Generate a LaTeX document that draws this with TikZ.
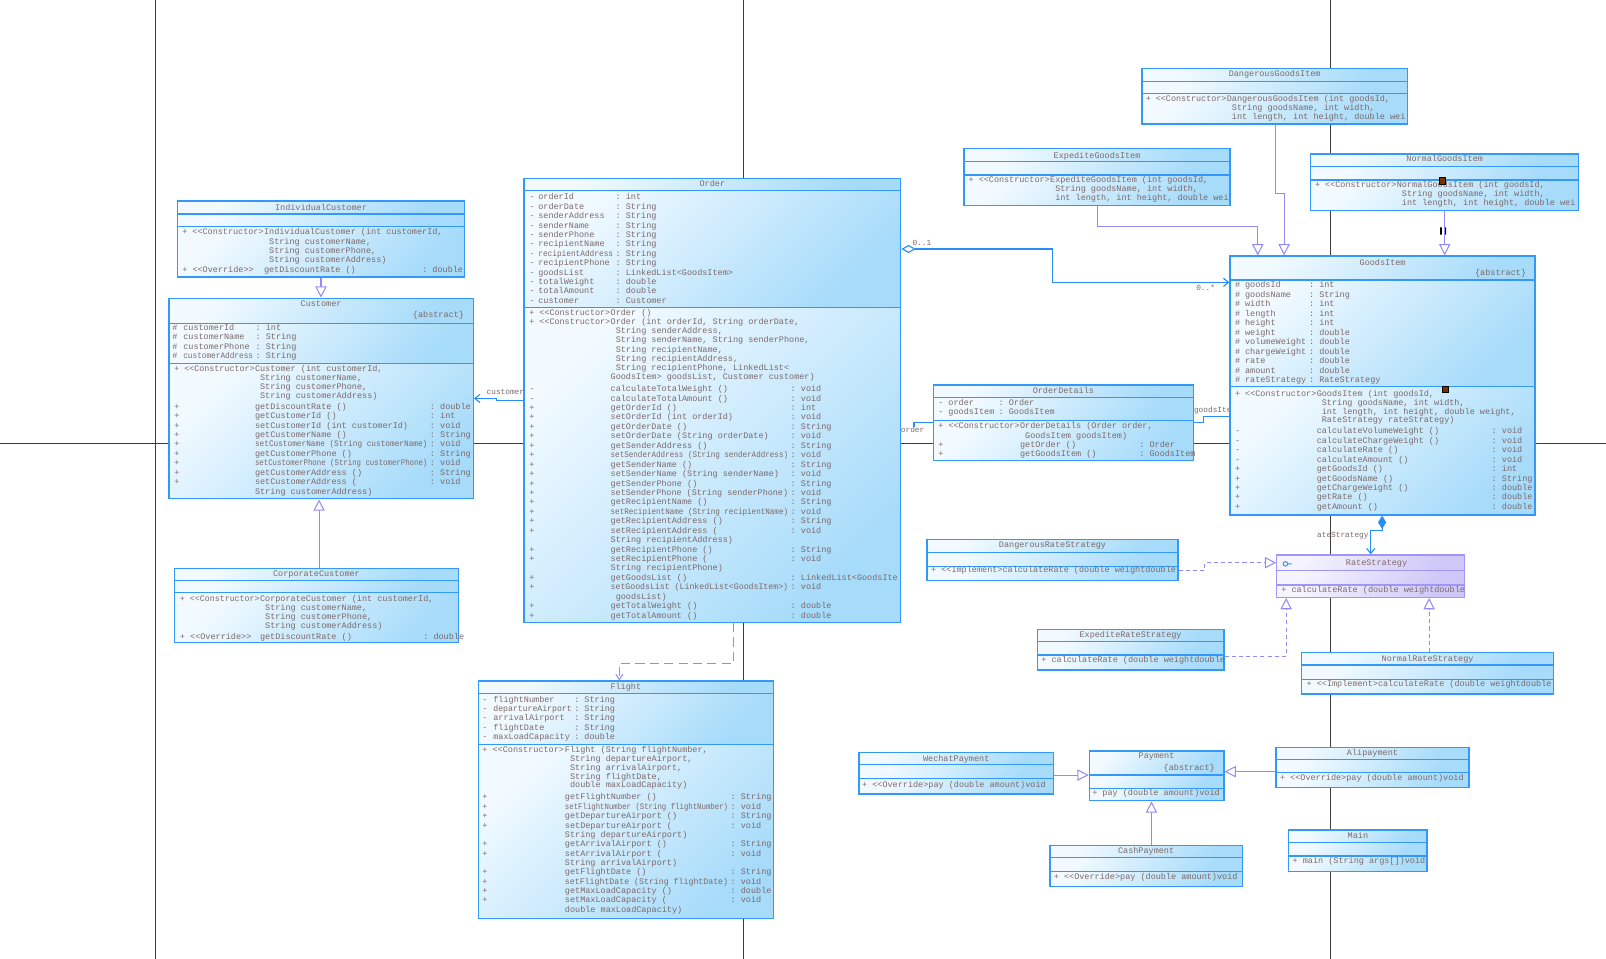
\documentclass[tikz,border=0pt]{standalone}
\usepackage{fontspec}
\setmonofont{Liberation Mono}
\usetikzlibrary{arrows.meta,fit}
\pgfdeclarelayer{bg}
\pgfsetlayers{bg,main}
\definecolor{boxlight}{RGB}{242,250,255}
\definecolor{boxdark}{RGB}{166,219,250}
\definecolor{boxborder}{RGB}{52,152,250}
\definecolor{ratelight}{RGB}{246,244,255}
\definecolor{ratedark}{RGB}{206,199,248}
\definecolor{rateborder}{RGB}{160,150,245}
\definecolor{textc}{RGB}{125,105,105}
\definecolor{assocc}{RGB}{40,140,250}
\definecolor{genc}{RGB}{145,140,245}
\definecolor{gridc}{RGB}{60,60,60}
\definecolor{markc}{RGB}{120,50,0}
\newcommand\uf{\ttfamily\fontsize{8.3}{9.2}\selectfont}
\newlength\Tw
\newcommand\Sq[2]{\settowidth\Tw{#2}%
  \ifdim\Tw>\dimexpr#1\relax\pgfmathsetmacro\Sqr{(#1)/\Tw}\scalebox{\Sqr}[1]{#2}\else#2\fi}
\newcommand\Row[3]{\hbox{\makebox[\wa][l]{\Sq{\wa-0.4pt}{#1}}\makebox[\wb][l]{\if\relax\detokenize{#3}\relax#2\else\Sq{\wb-2.5pt}{#2}\fi}#3}}
\newcommand\Blk[2]{\fontsize{8.3}{#1}\selectfont\lineskiplimit=-20pt\vtop{#2}}
\newcommand\ci{\hspace*{4.98pt}}
\newcommand\umlbox[8][plain]{%
  \path[#1fill] (#3,#4) rectangle (#5,#7);
  \path[#1fill] (#3,#7) rectangle (#5,#8);
  \path[#1fill] (#3,#8) rectangle (#5,#6);
  \draw[#1line] (#3,#7) -- (#5,#7) (#3,#8) -- (#5,#8);
  \node[#1line, fit={(#3,#4) (#5,#6)}, inner sep=0pt] (#2) {};
}
\begin{document}
\begin{tikzpicture}[x=1pt,y=-1pt,
  plainfill/.style={top color=boxlight, bottom color=boxdark, shading angle=45},
  plainline/.style={draw=boxborder, line width=1.3pt},
  ratefill/.style={top color=ratelight, bottom color=ratedark, shading angle=45},
  rateline/.style={draw=rateborder, line width=1.3pt},
  txt/.style={inner sep=0pt, outer sep=0pt, text=textc, font=\uf, anchor=base west},
  ttl/.style={txt, anchor=base},
  lbl/.style={txt, font=\ttfamily\fontsize{7.6}{8}\selectfont},
  assoc/.style={draw=assocc, line width=1.1pt},
  gen/.style={draw=genc, line width=1pt, -{Triangle[open, fill=white, length=11pt, width=11pt]}},
  real/.style={gen, dash pattern=on 4pt off 3pt},
  dep/.style={draw=genc, line width=1pt, dash pattern=on 9pt off 5pt, -{Straight Barb[length=5pt, width=7pt]}},
  gridl/.style={draw=gridc, line width=1pt},
  tip/.style={-{Straight Barb[length=5pt,width=8pt]}}]
\useasboundingbox (0,0) rectangle (1568,936);
\begin{pgfonlayer}{bg}
\fill[white] (0,0) rectangle (1568,936);
\draw[gridl] (152,0) -- (152,936);
\draw[gridl] (725.5,0) -- (725.5,936);
\draw[gridl] (1299,0) -- (1299,936);
\draw[gridl] (0,433) -- (1568,433);
\node[lbl] (lcustomer) at (475.2,385.6) {customer};
\node[lbl] (lrate) at (1286,524.6) {ateStrategy};
\node[lbl] (lm1) at (891,239.8) {0..1};
\node[lbl] (lm2) at (1168,283.7) {0..*};
\end{pgfonlayer}

% ---------- IndividualCustomer
\umlbox{IndividualCustomer}{173.5}{196.3}{453.3}{270.5}{209}{221.3}
\node[ttl] (icT) at (313.4,205.2) {IndividualCustomer};
\def\wa{79.8pt}\def\wb{154.5pt}
\node[txt] (icM) at (178,229.4) {\Blk{8.85}{%
\Row{+ <<Constructor>}{IndividualCustomer (int customerId,}{}
\Row{}{\ci String customerName,}{}
\Row{}{\ci String customerPhone,}{}
\Row{}{\ci String customerAddress)}{}
\vskip1.5pt
\Row{+ <<Override>>}{getDiscountRate ()}{: double}}};

% ---------- Customer
\umlbox{Customer}{165}{291.3}{462.1}{487}{315.7}{354.8}
\node[ttl] (cuT) at (313.5,299) {Customer};
\node[txt, anchor=base east] (cuAb) at (453,309.5) {\{abstract\}};
\def\wa{10.7pt}\def\wb{70.6pt}
\node[txt] (cuA) at (168.3,322.8) {\Blk{9.1}{%
\Row{\#}{customerId}{: int}
\Row{\#}{customerName}{: String}
\Row{\#}{customerPhone}{: String}
\Row{\#}{customerAddress}{: String}}};
\def\wa{78.8pt}\def\wb{170.8pt}
\node[txt] (cuC) at (170.2,362.5) {\Blk{8.8}{%
\Row{+ <<Constructor>}{Customer (int customerId,}{}
\Row{}{\ci String customerName,}{}
\Row{}{\ci String customerPhone,}{}
\Row{}{\ci String customerAddress)}{}}};
\node[txt] (cuM) at (170.2,399.6) {\Blk{9.19}{%
\Row{+}{getDiscountRate ()}{: double}
\Row{+}{getCustomerId ()}{: int}
\Row{+}{setCustomerId (int customerId)}{: void}
\Row{+}{getCustomerName ()}{: String}
\Row{+}{setCustomerName (String customerName)}{: void}
\Row{+}{getCustomerPhone ()}{: String}
\Row{+}{setCustomerPhone (String customerPhone)}{: void}
\Row{+}{getCustomerAddress ()}{: String}
\Row{+}{setCustomerAddress (}{: void}
\Row{}{String customerAddress)}{}}};

% ---------- CorporateCustomer
\umlbox{CorporateCustomer}{170.5}{554.9}{447.5}{627.5}{567}{578.7}
\node[ttl] (ccT) at (309,562.8) {CorporateCustomer};
\def\wa{78.2pt}\def\wb{159.4pt}
\node[txt] (ccM) at (175.7,587) {\Blk{8.9}{%
\Row{+ <<Constructor>}{CorporateCustomer (int customerId,}{}
\Row{}{\ci String customerName,}{}
\Row{}{\ci String customerPhone,}{}
\Row{}{\ci String customerAddress)}{}
\vskip2.2pt
\Row{+ <<Override>>}{getDiscountRate ()}{: double}}};

% ---------- Order
\umlbox{Order}{511.6}{174.1}{879.4}{607.6}{185.8}{300}
\node[ttl] (orT) at (695.5,182.3) {Order};
\def\wa{8.8pt}\def\wb{75.5pt}
\node[txt] (orA) at (516.8,195.2) {\Blk{9.17}{%
\Row{-}{orderId}{: int}
\Row{-}{orderDate}{: String}
\Row{-}{senderAddress}{: String}
\Row{-}{senderName}{: String}
\Row{-}{senderPhone}{: String}
\Row{-}{recipientName}{: String}
\Row{-}{recipientAddress}{: String}
\Row{-}{recipientPhone}{: String}
\Row{-}{goodsList}{: LinkedList<GoodsItem>}
\Row{-}{totalWeight}{: double}
\Row{-}{totalAmount}{: double}
\Row{-}{customer}{: Customer}}};
\def\wa{79.4pt}\def\wb{175.8pt}
\node[txt] (orC) at (516.8,308.1) {\Blk{8.9}{%
\Row{+ <<Constructor>}{Order ()}{}
\Row{+ <<Constructor>}{Order (int orderId, String orderDate,}{}
\Row{}{\ci String senderAddress,}{}
\Row{}{\ci String senderName, String senderPhone,}{}
\Row{}{\ci String recipientName,}{}
\Row{}{\ci String recipientAddress,}{}
\Row{}{\ci String recipientPhone, LinkedList<}{}
\Row{}{GoodsItem> goodsList, Customer customer)}{}}};
\node[txt] (orM) at (516.8,382.3) {\Blk{9.22}{%
\Row{-}{calculateTotalWeight ()}{: void}
\Row{-}{calculateTotalAmount ()}{: void}
\Row{+}{getOrderId ()}{: int}
\Row{+}{setOrderId (int orderId)}{: void}
\Row{+}{getOrderDate ()}{: String}
\Row{+}{setOrderDate (String orderDate)}{: void}
\Row{+}{getSenderAddress ()}{: String}
\Row{+}{setSenderAddress (String senderAddress)}{: void}
\Row{+}{getSenderName ()}{: String}
\Row{+}{setSenderName (String senderName)}{: void}
\Row{+}{getSenderPhone ()}{: String}
\Row{+}{setSenderPhone (String senderPhone)}{: void}
\Row{+}{getRecipientName ()}{: String}
\Row{+}{setRecipientName (String recipientName)}{: void}
\Row{+}{getRecipientAddress ()}{: String}
\Row{+}{setRecipientAddress (}{: void}
\Row{}{String recipientAddress)}{}
\Row{+}{getRecipientPhone ()}{: String}
\Row{+}{setRecipientPhone (}{: void}
\Row{}{String recipientPhone)}{}
\Row{+}{getGoodsList ()}{: LinkedList<GoodsIte}
\Row{+}{setGoodsList (LinkedList<GoodsItem>)}{: void}
\Row{}{\ci goodsList)}{}
\Row{+}{getTotalWeight ()}{: double}
\Row{+}{getTotalAmount ()}{: double}}};

% ---------- Flight
\umlbox{Flight}{467}{664.9}{755}{897}{677}{726.7}
\node[ttl] (flT) at (611,673.4) {Flight};
\def\wa{10.7pt}\def\wb{79pt}
\node[txt] (flA) at (471,685.6) {\Blk{9.05}{%
\Row{-}{flightNumber}{: String}
\Row{-}{departureAirport}{: String}
\Row{-}{arrivalAirport}{: String}
\Row{-}{flightDate}{: String}
\Row{-}{maxLoadCapacity}{: double}}};
\def\wa{80.6pt}\def\wb{161.8pt}
\node[txt] (flC) at (471,734.5) {\Blk{8.7}{%
\Row{+ <<Constructor>}{Flight (String flightNumber,}{}
\Row{}{\ci String departureAirport,}{}
\Row{}{\ci String arrivalAirport,}{}
\Row{}{\ci String flightDate,}{}
\Row{}{\ci double maxLoadCapacity)}{}}};
\node[txt] (flM) at (471,781) {\Blk{9.14}{%
\Row{+}{getFlightNumber ()}{: String}
\Row{+}{setFlightNumber (String flightNumber)}{: void}
\Row{+}{getDepartureAirport ()}{: String}
\Row{+}{setDepartureAirport (}{: void}
\Row{}{String departureAirport)}{}
\Row{+}{getArrivalAirport ()}{: String}
\Row{+}{setArrivalAirport (}{: void}
\Row{}{String arrivalAirport)}{}
\Row{+}{getFlightDate ()}{: String}
\Row{+}{setFlightDate (String flightDate)}{: void}
\Row{+}{getMaxLoadCapacity ()}{: double}
\Row{+}{setMaxLoadCapacity (}{: void}
\Row{}{double maxLoadCapacity)}{}}};

% ---------- Goods items
\umlbox{DangerousGoodsItem}{1115}{66.7}{1374}{121.1}{79.7}{91.1}
\node[ttl] (dgT) at (1244.5,74.5) {DangerousGoodsItem};
\def\wa{79.1pt}\def\wb{200pt}
\node[txt] (dgM) at (1118.7,99.2) {\Blk{8.8}{%
\Row{+ <<Constructor>}{DangerousGoodsItem (int goodsId,}{}
\Row{}{\ci String goodsName, int width,}{}
\Row{}{\ci int length, int height, double wei}{}}};

\umlbox{ExpediteGoodsItem}{941.2}{144.8}{1201}{200.8}{157.9}{170.9}
\node[ttl] (egT) at (1071.1,154.3) {ExpediteGoodsItem};
\def\wa{79.5pt}
\node[txt] (egM) at (945.8,178.6) {\Blk{8.8}{%
\Row{+ <<Constructor>}{ExpediteGoodsItem (int goodsId,}{}
\Row{}{\ci String goodsName, int width,}{}
\Row{}{\ci int length, int height, double wei}{}}};

\umlbox{NormalGoodsItem}{1279.6}{150.4}{1541.3}{205.7}{162.7}{175.7}
\node[ttl] (ngT) at (1410.5,157.9) {NormalGoodsItem};
\def\wa{79.9pt}
\node[txt] (ngM) at (1283.9,182.8) {\Blk{8.7}{%
\Row{+ <<Constructor>}{NormalGoodsItem (int goodsId,}{}
\Row{}{\ci String goodsName, int width,}{}
\Row{}{\ci int length, int height, double wei}{}}};

\umlbox{GoodsItem}{1201}{250}{1498.7}{502.8}{273.4}{377.5}
\node[ttl] (giT) at (1349.9,259) {GoodsItem};
\node[txt, anchor=base east] (giAb) at (1490,269.4) {\{abstract\}};
\def\wa{9.8pt}\def\wb{62.5pt}
\node[txt] (giA) at (1205.8,281.1) {\Blk{9.24}{%
\Row{\#}{goodsId}{: int}
\Row{\#}{goodsName}{: String}
\Row{\#}{width}{: int}
\Row{\#}{length}{: int}
\Row{\#}{height}{: int}
\Row{\#}{weight}{: double}
\Row{\#}{volumeWeight}{: double}
\Row{\#}{chargeWeight}{: double}
\Row{\#}{rate}{: double}
\Row{\#}{amount}{: double}
\Row{\#}{rateStrategy}{: RateStrategy}}};
\def\wa{79.8pt}\def\wb{170.8pt}
\node[txt] (giC) at (1205.8,386.9) {\Blk{8.67}{%
\Row{+ <<Constructor>}{GoodsItem (int goodsId,}{}
\Row{}{\ci String goodsName, int width,}{}
\Row{}{\ci int length, int height, double weight,}{}
\Row{}{\ci RateStrategy rateStrategy)}{}}};
\node[txt] (giM) at (1205.8,423.7) {\Blk{9.19}{%
\Row{-}{calculateVolumeWeight ()}{: void}
\Row{-}{calculateChargeWeight ()}{: void}
\Row{-}{calculateRate ()}{: void}
\Row{-}{calculateAmount ()}{: void}
\Row{+}{getGoodsId ()}{: int}
\Row{+}{getGoodsName ()}{: String}
\Row{+}{getChargeWeight ()}{: double}
\Row{+}{getRate ()}{: double}
\Row{+}{getAmount ()}{: double}}};

% ---------- OrderDetails
\umlbox{OrderDetails}{911.3}{375.9}{1165.1}{449.8}{388}{410.7}
\node[ttl] (odT) at (1038.2,384) {OrderDetails};
\def\wa{9.8pt}\def\wb{49pt}
\node[txt] (odA) at (916.2,396) {\Blk{8.8}{%
\Row{-}{order}{: Order}
\Row{-}{goodsItem}{: GoodsItem}}};
\def\wa{79.7pt}\def\wb{116.5pt}
\node[txt] (odM) at (916.2,418.8) {\Blk{8.9}{%
\Row{+ <<Constructor>}{OrderDetails (Order order,}{}
\Row{}{\ci GoodsItem goodsItem)}{}
\Row{+}{getOrder ()}{: Order}
\Row{+}{getGoodsItem ()}{: GoodsItem}}};

% ---------- Rate strategies
\umlbox{DangerousRateStrategy}{905}{526.6}{1150.2}{567}{539.6}{553.3}
\node[ttl] (drT) at (1027.6,535) {DangerousRateStrategy};
\node[txt] (drM) at (909.1,559.4) {+ <<Implement>calculateRate (double weightdouble};

\umlbox[rate]{RateStrategy}{1246.6}{541.9}{1430}{583.2}{557.2}{571.2}
\node[ttl] (rsT) at (1344,552.3) {RateStrategy};
\node[txt] (rsM) at (1251,578.6) {+ calculateRate (double weightdouble};
\draw[assocc, line width=0.9pt] (1255,550.5) circle (2.2pt) (1257.2,550.5) -- (1261,550.5);

\umlbox{ExpediteRateStrategy}{1012.7}{614.5}{1194.9}{654.2}{626.5}{639.5}
\node[ttl] (erT) at (1103.8,622.3) {ExpediteRateStrategy};
\node[txt] (erM) at (1016.7,646.6) {+ calculateRate (double weightdouble};

\umlbox{NormalRateStrategy}{1270.6}{637.3}{1516.9}{677.6}{649.3}{663.3}
\node[ttl] (nrT) at (1393.8,646) {NormalRateStrategy};
\node[txt] (nrM) at (1275.7,670.7) {+ <<Implement>calculateRate (double weightdouble};

% ---------- Payments
\umlbox{WechatPayment}{838.7}{734.6}{1028.5}{775.2}{746.3}{759.9}
\node[ttl] (wpT) at (933.6,743.4) {WechatPayment};
\node[txt] (wpM) at (841.7,768.6) {+ <<Override>pay (double amount)void};

\umlbox{Payment}{1063.6}{733.3}{1194.9}{781.8}{756.7}{769.7}
\node[ttl] (paT) at (1129.2,740.4) {Payment};
\node[txt, anchor=base east] (paAb) at (1186,752.5) {\{abstract\}};
\node[txt] (paM) at (1066.4,776.8) {+ pay (double amount)void};

\umlbox{Alipayment}{1245.8}{729.7}{1434.1}{769.1}{741.4}{754.1}
\node[ttl] (apT) at (1340,737.8) {Alipayment};
\node[txt] (apM) at (1249.7,762.2) {+ <<Override>pay (double amount)void};

\umlbox{CashPayment}{1025.1}{825.7}{1213}{865.7}{837.1}{851.1}
\node[ttl] (cpT) at (1119,833.7) {CashPayment};
\node[txt] (cpM) at (1028.9,858.2) {+ <<Override>pay (double amount)void};

\umlbox{Main}{1258.2}{810.4}{1393.3}{851.1}{822.8}{835.8}
\node[ttl] (mnT) at (1325.8,818.9) {Main};
\node[txt] (mnM) at (1262,843.5) {+ main (String args[])void};

% ---------- markers
\filldraw[fill=markc, draw=black, line width=0.4pt] (1405.1,173.4) rectangle (1411.1,179.4);
\filldraw[fill=markc, draw=black, line width=0.4pt] (1407.8,377.1) rectangle (1413.8,383.1);
\fill[black] (1406,222) rectangle (1407.8,229) (1410.2,222) rectangle (1412,229);

% ---------- OrderDetails links, under their labels and the boxes
\begin{pgfonlayer}{bg}
\draw[assoc] (OrderDetails.west |- 0,412.7) -| (892.4,418) -- (Order.east |- 0,418);
\draw[assoc] (OrderDetails.east |- 0,412.7) -| (1174.6,406.9) -- (GoodsItem.west |- 0,406.9);
\node[lbl, fill=white, inner ysep=0.5pt] (lorder) at (879.6,422.7) {order};
\node[lbl, fill=white, inner ysep=0.5pt] (lgoods) at (1165.8,402.8) {goodsItem};
\end{pgfonlayer}

% ---------- connectors
\draw[gen] (IndividualCustomer.south) -- (IndividualCustomer.south |- Customer.north);
\draw[gen] (CorporateCustomer.north -| 311.5,0) -- (Customer.south -| 311.5,0);
\draw[assoc, tip] (Order.west |- 0,391.2) -- (485,391.2) -- (485,389) -- (Customer.east |- 0,389);
\draw[dep] (Order.south -| 716,0) |- (604.7,647.7) -- (Flight.north -| 604.7,0);
\draw[assoc, {Diamond[open,fill=white,length=14pt,width=8pt]}-{Straight Barb[length=5pt,width=8pt]}] (Order.east |- 0,243.1) -| (1027.8,275.7) -- (GoodsItem.west |- 0,275.7);
\draw[assoc, {Diamond[length=13pt,width=8pt]}-{Straight Barb[length=5pt,width=8pt]}] (GoodsItem.south -| 1349.4,0) |- (1338.3,518.1) -- (RateStrategy.north);
\draw[gen] (DangerousGoodsItem.south -| 1245.3,0) |- (1253.7,188.8) -- (GoodsItem.north -| 1253.7,0);
\draw[gen] (ExpediteGoodsItem.south -| 1071.3,0) |- (1228,221) -- (GoodsItem.north -| 1228,0);
\draw[gen] (NormalGoodsItem.south -| 1410.5,0) -- (GoodsItem.north -| 1410.5,0);
\draw[real] (DangerousRateStrategy.east |- 0,557.2) -| (1176.1,549.4) -- (RateStrategy.west |- 0,549.4);
\draw[real] (ExpediteRateStrategy.east |- 0,640.5) -| (RateStrategy.south -| 1255.7,0);
\draw[real] (NormalRateStrategy.north -| 1395.3,0) -- (RateStrategy.south -| 1395.3,0);
\draw[gen] (WechatPayment.east |- 0,756.7) -- (Payment.west |- 0,756.7);
\draw[gen] (Alipayment.west |- 0,753.4) -- (Payment.east |- 0,753.4);
\draw[gen] (CashPayment.north -| 1124.2,0) -- (Payment.south -| 1124.2,0);
\end{tikzpicture}
\end{document}
